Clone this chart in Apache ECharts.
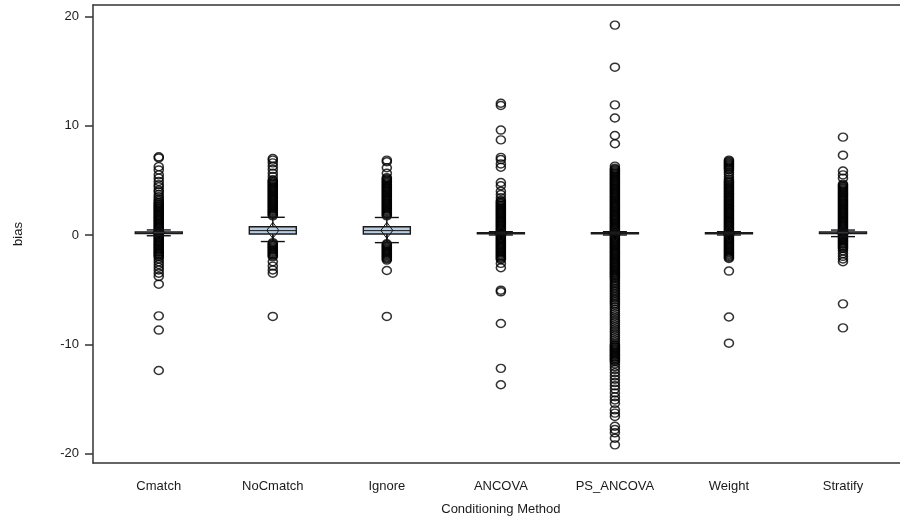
<!DOCTYPE html>
<html><head><meta charset="utf-8">
<script src="https://cdn.jsdelivr.net/npm/echarts@6/dist/echarts.min.js"></script>
<style>html,body{margin:0;padding:0;background:#fff}#c{width:900px;height:521px}</style>
</head><body><div id="c"></div><script>
const categories = ['Cmatch','NoCmatch','Ignore','ANCOVA','PS_ANCOVA','Weight','Stratify'];
const yTicks = [-20,-10,0,10,20];

// box statistics per method
const lowWhisker  = [-0.07, -0.6, -0.7, 0.0, 0.0, 0.0, -0.15];
const q1          = [0.12, 0.09, 0.09, 0.1, 0.1, 0.1, 0.12];
const median      = [0.2, 0.4, 0.4, 0.15, 0.15, 0.15, 0.2];
const q3          = [0.28, 0.76, 0.76, 0.2, 0.2, 0.2, 0.28];
const highWhisker = [0.46, 1.62, 1.6, 0.3, 0.3, 0.3, 0.45];
const means       = [0.2, 0.42, 0.42, 0.15, 0.15, 0.15, 0.2];

// outliers per method (dense columns estimated)
const outCmatch = [7.15,7.05,6.25,5.95,5.5,5.2,4.9,4.6,4.4,4.1,3.95,3.7,3.5,3.3,3.15,3.0,2.9,2.8,2.7,2.6,2.5,2.4,2.3,2.2,2.1,2.0,1.9,1.8,1.7,1.6,1.5,1.4,1.3,1.2,1.1,1.0,0.9,0.8,0.7,0.6,0.5,0.4,0.3,0.2,0.1,0.0,-0.1,-0.2,-0.3,-0.4,-0.5,-0.6,-0.7,-0.8,-0.9,-1.0,-1.1,-1.2,-1.3,-1.4,-1.5,-1.6,-1.7,-1.8,-1.9,-2.0,-2.2,-2.45,-2.7,-2.95,-3.2,-3.5,-3.8,-4.5,-7.4,-8.7,-12.4];
const outNoCmatch = [7.0,6.85,6.6,6.3,6.0,5.65,5.35,5.05,4.95,4.85,4.75,4.65,4.55,4.45,4.35,4.25,4.15,4.05,3.95,3.85,3.75,3.65,3.55,3.45,3.35,3.25,3.15,3.05,2.95,2.85,2.75,2.65,2.55,2.45,2.35,2.25,2.15,2.05,1.95,1.85,1.75,-0.7,-0.8,-0.9,-1.0,-1.1,-1.2,-1.3,-1.4,-1.5,-1.6,-1.7,-1.8,-1.9,-2.0,-2.45,-2.85,-3.2,-3.5,-7.45];
const outIgnore = [6.85,6.7,6.15,5.65,5.25,5.15,5.05,4.95,4.85,4.75,4.65,4.55,4.45,4.35,4.25,4.15,4.05,3.95,3.85,3.75,3.65,3.55,3.45,3.35,3.25,3.15,3.05,2.95,2.85,2.75,2.65,2.55,2.45,2.35,2.25,2.15,2.05,1.95,1.85,1.75,-0.8,-0.9,-1.0,-1.1,-1.2,-1.3,-1.4,-1.5,-1.6,-1.7,-1.8,-1.9,-2.0,-2.1,-2.2,-2.3,-3.25,-7.45];
const outANCOVA = [12.05,11.85,9.6,8.7,7.1,6.9,6.5,6.2,4.8,4.5,4.0,3.7,3.4,3.15,3.05,2.95,2.85,2.75,2.65,2.55,2.45,2.35,2.25,2.15,2.05,1.95,1.85,1.75,1.65,1.55,1.45,1.35,1.25,1.15,1.05,0.95,0.85,0.75,0.65,0.55,0.45,0.35,0.25,0.15,0.05,-0.05,-0.15,-0.25,-0.35,-0.45,-0.55,-0.65,-0.75,-0.85,-0.95,-1.05,-1.15,-1.25,-1.35,-1.45,-1.55,-1.65,-1.75,-1.85,-1.95,-2.05,-2.15,-2.25,-2.6,-3.0,-5.05,-5.2,-8.1,-12.2,-13.7];
const outPSANCOVA = [19.2,15.35,11.9,10.7,9.1,8.35,6.3,6.1,6.0,5.9,5.8,5.7,5.6,5.5,5.4,5.3,5.2,5.1,5.0,4.9,4.8,4.7,4.6,4.5,4.4,4.3,4.2,4.1,4.0,3.9,3.8,3.7,3.6,3.5,3.4,3.3,3.2,3.1,3.0,2.9,2.8,2.7,2.6,2.5,2.4,2.3,2.2,2.1,2.0,1.9,1.8,1.7,1.6,1.5,1.4,1.3,1.2,1.1,1.0,0.9,0.8,0.7,0.6,0.5,0.4,0.3,0.2,0.1,0.0,-0.1,-0.2,-0.3,-0.4,-0.5,-0.6,-0.7,-0.8,-0.9,-1.0,-1.1,-1.2,-1.3,-1.4,-1.5,-1.6,-1.7,-1.8,-1.9,-2.0,-2.1,-2.2,-2.3,-2.4,-2.5,-2.6,-2.7,-2.8,-2.9,-3.0,-3.1,-3.2,-3.3,-3.4,-3.5,-3.6,-3.7,-3.8,-3.9,-4.0,-4.15,-4.3,-4.45,-4.6,-4.75,-4.9,-5.05,-5.2,-5.35,-5.5,-5.65,-5.8,-5.95,-6.1,-6.25,-6.4,-6.6,-6.8,-7.0,-7.2,-7.4,-7.6,-7.8,-8.0,-8.2,-8.4,-8.6,-8.8,-9.0,-9.2,-9.4,-9.6,-9.8,-10.0,-10.1,-10.2,-10.3,-10.4,-10.5,-10.6,-10.7,-10.8,-10.9,-11.0,-11.1,-11.2,-11.3,-11.4,-11.5,-11.6,-11.8,-12.05,-12.3,-12.6,-12.9,-13.2,-13.5,-13.8,-14.1,-14.45,-14.8,-15.1,-15.4,-16.0,-16.3,-16.6,-17.5,-17.8,-18.1,-18.6,-19.2];
const outWeight = [6.85,6.75,6.65,6.55,6.45,6.35,6.25,6.15,6.05,5.95,5.75,5.55,5.3,5.1,4.95,4.85,4.75,4.65,4.55,4.45,4.35,4.25,4.15,4.05,3.95,3.85,3.75,3.65,3.55,3.45,3.35,3.25,3.15,3.05,2.95,2.85,2.75,2.65,2.55,2.45,2.35,2.25,2.15,2.05,1.95,1.85,1.75,1.65,1.55,1.45,1.35,1.25,1.15,1.05,0.95,0.85,0.75,0.65,0.55,0.45,0.35,0.25,0.15,0.05,-0.05,-0.15,-0.25,-0.35,-0.45,-0.55,-0.65,-0.75,-0.85,-0.95,-1.05,-1.15,-1.25,-1.35,-1.45,-1.55,-1.65,-1.75,-1.85,-1.95,-2.05,-2.15,-3.3,-7.5,-9.9];
const outStratify = [8.95,7.3,5.85,5.5,5.2,4.65,4.55,4.45,4.35,4.25,4.15,4.05,3.95,3.85,3.75,3.65,3.55,3.45,3.35,3.25,3.15,3.05,2.95,2.85,2.75,2.65,2.55,2.45,2.35,2.25,2.15,2.05,1.95,1.85,1.75,1.65,1.55,1.45,1.35,1.25,1.15,1.05,0.95,0.85,0.75,0.65,0.55,0.45,0.35,0.25,0.15,0.05,-0.05,-0.15,-0.25,-0.35,-0.45,-0.55,-0.65,-0.75,-0.85,-0.95,-1.05,-1.15,-1.25,-1.45,-1.7,-1.95,-2.2,-2.45,-6.3,-8.5];

const outlierSets = [outCmatch,outNoCmatch,outIgnore,outANCOVA,outPSANCOVA,outWeight,outStratify];
const scatterData = [];
outlierSets.forEach((arr,i)=>arr.forEach(v=>scatterData.push([i,v])));
const boxData = categories.map((c,i)=>[i, lowWhisker[i], q1[i], median[i], q3[i], highWhisker[i], means[i]]);

const yMin = -20.86, yMax = 21.04;
const FONT = 'Liberation Sans, Arial, sans-serif';
const axisColor = '#333';
const lineStyle = {color: axisColor, width: 1.5};

const chart = echarts.init(document.getElementById('c'));
chart.setOption({
  animation: false,
  grid: [
    {left: 101.75, width: 801.5, top: 5, bottom: 58},
    {left: 93, right: 0, top: 5, bottom: 58}
  ],
  xAxis: [
    {type: 'category', gridIndex: 0, data: categories,
     axisLine: {show: false},
     axisTick: {show: true, alignWithLabel: true, length: 7, lineStyle: lineStyle},
     axisLabel: {margin: 17, fontSize: 13, color: '#1a1a1a', fontFamily: FONT},
     name: 'Conditioning Method', nameLocation: 'middle', nameGap: 40,
     nameTextStyle: {fontSize: 13, color: '#1a1a1a', fontFamily: FONT}},
    {type: 'value', gridIndex: 1, min: 0, max: 1, position: 'bottom',
     axisLine: {show: true, onZero: false, lineStyle: lineStyle},
     axisTick: {show: false}, axisLabel: {show: false}, splitLine: {show: false}},
    {type: 'value', gridIndex: 1, min: 0, max: 1, position: 'top',
     axisLine: {show: true, onZero: false, lineStyle: lineStyle},
     axisTick: {show: false}, axisLabel: {show: false}, splitLine: {show: false}}
  ],
  yAxis: [
    {type: 'value', gridIndex: 0, min: yMin, max: yMax, show: false, splitLine: {show: false}},
    {type: 'value', gridIndex: 1, min: yMin, max: yMax,
     axisLine: {show: true, onZero: false, lineStyle: lineStyle},
     axisTick: {show: true, length: 8, lineStyle: lineStyle, customValues: yTicks},
     axisLabel: {fontSize: 13, color: '#1a1a1a', fontFamily: FONT, margin: 14, customValues: yTicks},
     splitLine: {show: false},
     name: 'bias', nameLocation: 'middle', nameGap: 68,
     nameTextStyle: {fontSize: 13, color: '#1a1a1a', fontFamily: FONT}}
  ],
  series: [
    {type: 'scatter', xAxisIndex: 0, yAxisIndex: 0, data: scatterData,
     symbol: 'circle', symbolSize: [9, 8], z: 2,
     itemStyle: {color: 'rgba(0,0,0,0)', borderColor: '#000', borderWidth: 1.5}},
    {type: 'custom', xAxisIndex: 0, yAxisIndex: 0, data: boxData, z: 3,
     renderItem: function(params, api) {
       const i = api.value(0);
       const x = api.coord([i, 0])[0];
       const Y = v => api.coord([i, v])[1];
       const bw = 47, cw = 24, dw = 6, dh = 8;
       const yl = Y(api.value(1)), yq1 = Y(api.value(2)), ym = Y(api.value(3)),
             yq3 = Y(api.value(4)), yh = Y(api.value(5)), ymean = Y(api.value(6));
       const ls = {stroke: '#111', lineWidth: 1.4};
       return {type: 'group', children: [
         {type: 'line', shape: {x1: x, y1: yq3, x2: x, y2: yh}, style: ls},
         {type: 'line', shape: {x1: x, y1: yq1, x2: x, y2: yl}, style: ls},
         {type: 'line', shape: {x1: x - cw/2, y1: yh, x2: x + cw/2, y2: yh}, style: ls},
         {type: 'line', shape: {x1: x - cw/2, y1: yl, x2: x + cw/2, y2: yl}, style: ls},
         {type: 'rect', shape: {x: x - bw/2, y: yq3, width: bw, height: Math.max(yq1 - yq3, 1)},
          style: {fill: '#b8cce4', stroke: '#1a1a1a', lineWidth: 1.4}},
         {type: 'line', shape: {x1: x - bw/2, y1: ym, x2: x + bw/2, y2: ym}, style: {stroke: '#1a1a1a', lineWidth: 1}},
         {type: 'polygon', shape: {points: [[x, ymean - dh], [x + dw, ymean], [x, ymean + dh], [x - dw, ymean]]},
          style: {fill: 'none', stroke: '#111', lineWidth: 1}}
       ]};
     }}
  ]
});
</script></body></html>
